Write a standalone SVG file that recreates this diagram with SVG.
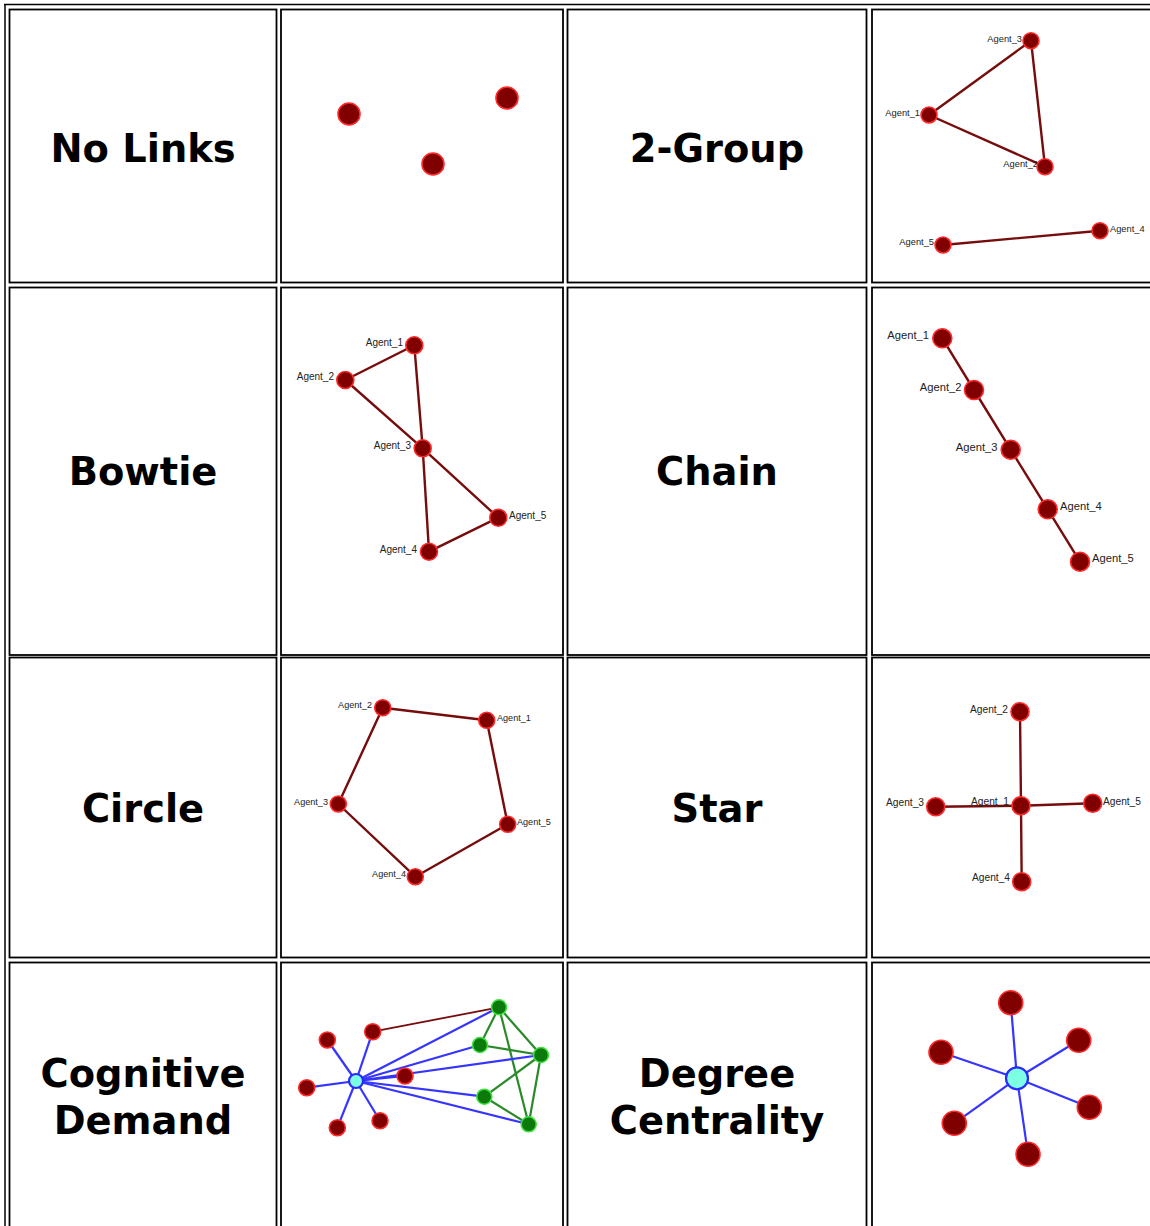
<svg xmlns="http://www.w3.org/2000/svg" width="1150" height="1226" viewBox="0 0 1150 1226">
<style>
.bg{fill:#fff}
.cell{fill:#fff;stroke:#000;stroke-width:1.8}
.outer{stroke:#000;stroke-width:1.5;fill:none}
.hdr{font-family:"DejaVu Sans",Verdana,sans-serif;font-weight:bold;font-size:38.4px;fill:#000;text-anchor:middle}
.lbl{font-family:"Liberation Sans",Arial,sans-serif;fill:#222}
.e{text-anchor:end}
.s{text-anchor:start}
.edge{stroke:#760c0c;stroke-width:2.4;stroke-linecap:round}
.thin{stroke:#760c0c;stroke-width:1.8}
.blue{stroke:#3535ff;stroke-width:2.2}
.green{stroke:#2a8a2a;stroke-width:2.2}
.rn{fill:#800000;stroke:#ff2a2a;stroke-width:1.6}
.gn{fill:#0b7a0b;stroke:#3ee03e;stroke-width:1.6}
.cn{fill:#7dffe4;stroke:#2a2aff;stroke-width:2.2}
</style>
<rect class="bg" x="0" y="0" width="1150" height="1226"/>
<g id="table">
<line class="outer" x1="4" y1="4.5" x2="1150" y2="4.5"/>
<line class="outer" x1="5" y1="4" x2="5" y2="1226"/>
<rect class="cell" x="9.5" y="9.5" width="267" height="273"/>
<rect class="cell" x="281" y="9.5" width="282" height="273"/>
<rect class="cell" x="567.5" y="9.5" width="299" height="273"/>
<rect class="cell" x="872" y="9.5" width="290" height="273"/>
<rect class="cell" x="9.5" y="287.5" width="267" height="367.5"/>
<rect class="cell" x="281" y="287.5" width="282" height="367.5"/>
<rect class="cell" x="567.5" y="287.5" width="299" height="367.5"/>
<rect class="cell" x="872" y="287.5" width="290" height="367.5"/>
<rect class="cell" x="9.5" y="657.5" width="267" height="300"/>
<rect class="cell" x="281" y="657.5" width="282" height="300"/>
<rect class="cell" x="567.5" y="657.5" width="299" height="300"/>
<rect class="cell" x="872" y="657.5" width="290" height="300"/>
<rect class="cell" x="9.5" y="962.5" width="267" height="280"/>
<rect class="cell" x="281" y="962.5" width="282" height="280"/>
<rect class="cell" x="567.5" y="962.5" width="299" height="280"/>
<rect class="cell" x="872" y="962.5" width="290" height="280"/>
</g>
<g id="headers">
<text id="h-nolinks" class="hdr" x="143" y="161.5">No Links</text>
<text id="h-2group" class="hdr" x="717" y="161.5">2-Group</text>
<text id="h-bowtie" class="hdr" x="143" y="485">Bowtie</text>
<text id="h-chain" class="hdr" x="717" y="485">Chain</text>
<text id="h-circle" class="hdr" x="143" y="822">Circle</text>
<text id="h-star" class="hdr" x="717" y="822">Star</text>
<text id="h-cognitive" class="hdr" x="143" y="1087">Cognitive<tspan x="143" y="1134">Demand</tspan></text>
<text id="h-degree" class="hdr" x="717" y="1087">Degree<tspan x="717" y="1134">Centrality</tspan></text>
</g>

<!-- No Links -->
<g id="nolinks">
<g id="nl-n1"><circle class="rn" cx="349" cy="114" r="11"/></g>
<g id="nl-n2"><circle class="rn" cx="507" cy="98" r="11"/></g>
<g id="nl-n3"><circle class="rn" cx="433" cy="164" r="11"/></g>
</g>

<!-- 2-Group -->
<g id="twogroup-connectors">
<line class="edge" x1="929" y1="115" x2="1031" y2="40.7"/>
<line class="edge" x1="929" y1="115" x2="1045" y2="166.7"/>
<line class="edge" x1="1031" y1="40.7" x2="1045" y2="166.7"/>
<line class="edge" x1="943" y1="245" x2="1100" y2="230.7"/>
</g>
<g id="twogroup" class="lbl" font-size="9.3">
<g id="tg-a3"><text class="e" x="1022" y="41.5">Agent_3</text><circle class="rn" cx="1031" cy="40.7" r="8"/></g>
<g id="tg-a1"><text class="e" x="920" y="116">Agent_1</text><circle class="rn" cx="929" cy="115" r="8"/></g>
<g id="tg-a2"><text class="e" x="1038" y="167">Agent_2</text><circle class="rn" cx="1045" cy="166.7" r="8"/></g>
<g id="tg-a4"><text class="s" x="1110" y="231.5">Agent_4</text><circle class="rn" cx="1100" cy="230.7" r="8"/></g>
<g id="tg-a5"><text class="e" x="934" y="244.5">Agent_5</text><circle class="rn" cx="943" cy="245" r="8"/></g>
</g>

<!-- Bowtie -->
<g id="bowtie-connectors">
<line class="edge" x1="414.3" y1="345.3" x2="345.3" y2="380"/>
<line class="edge" x1="414.3" y1="345.3" x2="422.7" y2="448.3"/>
<line class="edge" x1="345.3" y1="380" x2="422.7" y2="448.3"/>
<line class="edge" x1="422.7" y1="448.3" x2="429" y2="551.7"/>
<line class="edge" x1="422.7" y1="448.3" x2="498.3" y2="517.7"/>
<line class="edge" x1="429" y1="551.7" x2="498.3" y2="517.7"/>
</g>
<g id="bowtie" class="lbl" font-size="10">
<g id="bt-a1"><text class="e" x="403" y="345.5">Agent_1</text><circle class="rn" cx="414.3" cy="345.3" r="8.5"/></g>
<g id="bt-a2"><text class="e" x="334" y="380">Agent_2</text><circle class="rn" cx="345.3" cy="380" r="8.5"/></g>
<g id="bt-a3"><text class="e" x="411" y="449">Agent_3</text><circle class="rn" cx="422.7" cy="448.3" r="8.5"/></g>
<g id="bt-a5"><text class="s" x="509" y="518.5">Agent_5</text><circle class="rn" cx="498.3" cy="517.7" r="8.5"/></g>
<g id="bt-a4"><text class="e" x="417" y="552.5">Agent_4</text><circle class="rn" cx="429" cy="551.7" r="8.5"/></g>
</g>

<!-- Chain -->
<g id="chain-connectors">
<line class="edge" x1="942.3" y1="338.3" x2="974" y2="390"/>
<line class="edge" x1="974" y1="390" x2="1010.7" y2="449.7"/>
<line class="edge" x1="1010.7" y1="449.7" x2="1047.7" y2="509.3"/>
<line class="edge" x1="1047.7" y1="509.3" x2="1080" y2="561.7"/>
</g>
<g id="chain" class="lbl" font-size="11.2">
<g id="ch-a1"><text class="e" x="929" y="339">Agent_1</text><circle class="rn" cx="942.3" cy="338.3" r="9.5"/></g>
<g id="ch-a2"><text class="e" x="961.5" y="390.5">Agent_2</text><circle class="rn" cx="974" cy="390" r="9.5"/></g>
<g id="ch-a3"><text class="e" x="997.5" y="451">Agent_3</text><circle class="rn" cx="1010.7" cy="449.7" r="9.5"/></g>
<g id="ch-a4"><text class="s" x="1060" y="509.5">Agent_4</text><circle class="rn" cx="1047.7" cy="509.3" r="9.5"/></g>
<g id="ch-a5"><text class="s" x="1092" y="562">Agent_5</text><circle class="rn" cx="1080" cy="561.7" r="9.5"/></g>
</g>

<!-- Circle -->
<g id="circle-connectors">
<line class="edge" x1="382.7" y1="707.7" x2="486.7" y2="720.3"/>
<line class="edge" x1="486.7" y1="720.3" x2="507.7" y2="824.3"/>
<line class="edge" x1="507.7" y1="824.3" x2="415.3" y2="876.7"/>
<line class="edge" x1="415.3" y1="876.7" x2="338.3" y2="804"/>
<line class="edge" x1="338.3" y1="804" x2="382.7" y2="707.7"/>
</g>
<g id="circle" class="lbl" font-size="9.1">
<g id="ci-a2"><text class="e" x="372" y="708">Agent_2</text><circle class="rn" cx="382.7" cy="707.7" r="8"/></g>
<g id="ci-a1"><text class="s" x="497" y="720.5">Agent_1</text><circle class="rn" cx="486.7" cy="720.3" r="8"/></g>
<g id="ci-a3"><text class="e" x="328" y="804.5">Agent_3</text><circle class="rn" cx="338.3" cy="804" r="8"/></g>
<g id="ci-a5"><text class="s" x="517" y="824.5">Agent_5</text><circle class="rn" cx="507.7" cy="824.3" r="8"/></g>
<g id="ci-a4"><text class="e" x="406" y="877">Agent_4</text><circle class="rn" cx="415.3" cy="876.7" r="8"/></g>
</g>

<!-- Star -->
<g id="star-connectors">
<line class="edge" x1="1021" y1="805.7" x2="1020" y2="711.7"/>
<line class="edge" x1="1021" y1="805.7" x2="935.7" y2="806.7"/>
<line class="edge" x1="1021" y1="805.7" x2="1092.7" y2="803.3"/>
<line class="edge" x1="1021" y1="805.7" x2="1021.7" y2="881.7"/>
</g>
<g id="star" class="lbl" font-size="10.2">
<g id="st-a2"><text class="e" x="1008" y="712.5">Agent_2</text><circle class="rn" cx="1020" cy="711.7" r="9"/></g>
<g id="st-a3"><text class="e" x="924" y="806">Agent_3</text><circle class="rn" cx="935.7" cy="806.7" r="9"/></g>
<g id="st-a1"><text class="e" x="1009" y="805">Agent_1</text><circle class="rn" cx="1021" cy="805.7" r="9"/></g>
<g id="st-a5"><text class="s" x="1103" y="804.5">Agent_5</text><circle class="rn" cx="1092.7" cy="803.3" r="9"/></g>
<g id="st-a4"><text class="e" x="1010" y="881">Agent_4</text><circle class="rn" cx="1021.7" cy="881.7" r="9"/></g>
</g>

<!-- Cognitive Demand -->
<g id="cognitive-connectors">
<line class="thin" x1="372.7" y1="1031.7" x2="499" y2="1007.3"/>
<line class="green" x1="499" y1="1007.3" x2="480" y2="1045"/>
<line class="green" x1="499" y1="1007.3" x2="541" y2="1055"/>
<line class="green" x1="499" y1="1007.3" x2="528.7" y2="1124.3"/>
<line class="green" x1="480" y1="1045" x2="541" y2="1055"/>
<line class="green" x1="541" y1="1055" x2="484.3" y2="1096.7"/>
<line class="green" x1="541" y1="1055" x2="528.7" y2="1124.3"/>
<line class="green" x1="484.3" y1="1096.7" x2="528.7" y2="1124.3"/>
<line class="blue" x1="356" y1="1081" x2="327.3" y2="1040"/>
<line class="blue" x1="356" y1="1081" x2="372.7" y2="1031.7"/>
<line class="blue" x1="356" y1="1081" x2="306.7" y2="1087.7"/>
<line class="blue" x1="356" y1="1081" x2="337.3" y2="1127.7"/>
<line class="blue" x1="356" y1="1081" x2="380" y2="1120.7"/>
<line class="blue" x1="356" y1="1081" x2="405" y2="1076"/>
<line class="blue" x1="356" y1="1081" x2="499" y2="1007.3"/>
<line class="blue" x1="356" y1="1081" x2="480" y2="1045"/>
<line class="blue" x1="356" y1="1081" x2="541" y2="1055"/>
<line class="blue" x1="356" y1="1081" x2="484.3" y2="1096.7"/>
<line class="blue" x1="356" y1="1081" x2="528.7" y2="1124.3"/>
</g>
<g id="cognitive">
<g id="cd-r1"><circle class="rn" cx="327.3" cy="1040" r="8"/></g>
<g id="cd-r2"><circle class="rn" cx="372.7" cy="1031.7" r="8"/></g>
<g id="cd-r3"><circle class="rn" cx="306.7" cy="1087.7" r="8"/></g>
<g id="cd-r4"><circle class="rn" cx="337.3" cy="1127.7" r="8"/></g>
<g id="cd-r5"><circle class="rn" cx="380" cy="1120.7" r="8"/></g>
<g id="cd-r6"><circle class="rn" cx="405" cy="1076" r="8"/></g>
<g id="cd-g1"><circle class="gn" cx="499" cy="1007.3" r="7.5"/></g>
<g id="cd-g2"><circle class="gn" cx="480" cy="1045" r="7.5"/></g>
<g id="cd-g3"><circle class="gn" cx="541" cy="1055" r="7.5"/></g>
<g id="cd-g4"><circle class="gn" cx="484.3" cy="1096.7" r="7.5"/></g>
<g id="cd-g5"><circle class="gn" cx="528.7" cy="1124.3" r="7.5"/></g>
<g id="cd-center"><circle class="cn" cx="356" cy="1081" r="7"/></g>
</g>

<!-- Degree Centrality -->
<g id="degree-connectors">
<line class="blue" x1="1017" y1="1078.3" x2="1010.7" y2="1002.7"/>
<line class="blue" x1="1017" y1="1078.3" x2="1078.7" y2="1040.3"/>
<line class="blue" x1="1017" y1="1078.3" x2="941" y2="1052.3"/>
<line class="blue" x1="1017" y1="1078.3" x2="1089.3" y2="1107.3"/>
<line class="blue" x1="1017" y1="1078.3" x2="954.3" y2="1123.3"/>
<line class="blue" x1="1017" y1="1078.3" x2="1028" y2="1154.3"/>
</g>
<g id="degree">
<g id="dc-n1"><circle class="rn" cx="1010.7" cy="1002.7" r="12"/></g>
<g id="dc-n2"><circle class="rn" cx="1078.7" cy="1040.3" r="12"/></g>
<g id="dc-n3"><circle class="rn" cx="941" cy="1052.3" r="12"/></g>
<g id="dc-n4"><circle class="rn" cx="1089.3" cy="1107.3" r="12"/></g>
<g id="dc-n5"><circle class="rn" cx="954.3" cy="1123.3" r="12"/></g>
<g id="dc-n6"><circle class="rn" cx="1028" cy="1154.3" r="12"/></g>
<g id="dc-center"><circle class="cn" cx="1017" cy="1078.3" r="11" stroke-width="2.6"/></g>
</g>
</svg>
